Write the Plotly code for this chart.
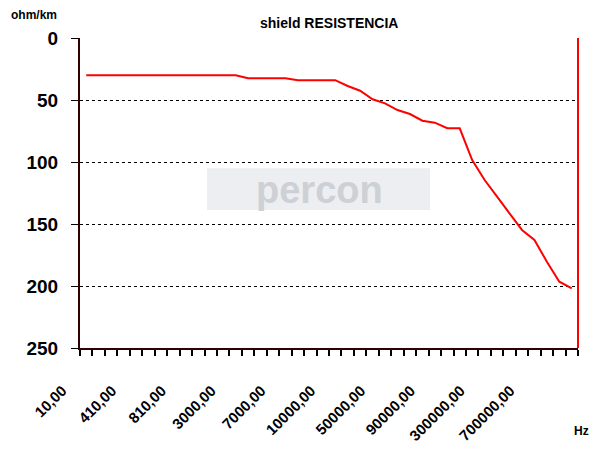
import plotly.graph_objects as go

# frequencies (Hz) on the category axis
freqs = [10, 110, 210, 310, 410, 510, 610, 710, 810, 910,
         1000, 2000, 3000, 4000, 5000, 6000, 7000, 8000, 9000, 9500,
         10000, 20000, 30000, 40000, 50000, 60000, 70000, 80000, 90000, 100000,
         150000, 200000, 300000, 400000, 500000, 600000, 700000, 800000, 900000, 1000000]

# shield resistance, ohm/km
resistance = [30, 30, 30, 30, 30, 30, 30, 30, 30, 30,
              30, 30, 30, 32.5, 32.5, 32.5, 32.5, 34, 34, 34,
              34, 38.7, 42.5, 49.4, 52.7, 58.1, 61.3, 66.7, 68.3, 72.8,
              72.8, 98.4, 114.5, 128, 141.5, 154.8, 162.9, 180.4, 196.5, 201.9]

y_ticks = [0, 50, 100, 150, 200, 250]

freq_labels = [f"{f},00" for f in freqs]
x_idx = list(range(len(freqs)))
label_idx = x_idx[::4]

fig = go.Figure(go.Scatter(
    x=x_idx, y=resistance, mode="lines",
    line=dict(color="#ff0000", width=2),
    hoverinfo="skip",
))

# the page body adds an 8px offset, so the figure is 8px smaller on each side
fig.update_layout(
    width=606, height=442,
    margin=dict(l=72, r=36, t=30, b=102),
    plot_bgcolor="#ffffff",
    paper_bgcolor="#ffffff",
    showlegend=False,
    font=dict(family="Liberation Sans, Arial, sans-serif", color="#000000"),
    xaxis=dict(
        automargin=False,
        range=[-0.5, len(freqs) - 0.5],
        tickmode="array",
        tickvals=label_idx,
        ticktext=[f"<b>{freq_labels[i]}</b>" for i in label_idx],
        tickangle=-45,
        ticks="",
        ticklabelshift=-24,
        ticklabelstandoff=26,
        tickfont=dict(size=15, color="#000000"),
        showgrid=False,
        zeroline=False,
        showline=True, linecolor="#300000", linewidth=2,
        minor=dict(
            tickvals=[i - 0.5 for i in range(len(freqs) + 1)],
            ticks="outside", ticklen=6, tickwidth=2, tickcolor="#000000",
            showgrid=False,
        ),
    ),
    yaxis=dict(
        automargin=False,
        range=[250, 0],
        tickmode="array",
        tickvals=y_ticks,
        ticktext=[f"<b>{v}</b>" for v in y_ticks],
        tickfont=dict(size=19, color="#000000"),
        ticks="outside", ticklen=7, tickwidth=1, tickcolor="#000000",
        ticklabelstandoff=9,
        showgrid=True, gridcolor="#000000", griddash="dot", gridwidth=1,
        zeroline=False,
        showline=True, linecolor="#300000", linewidth=2,
    ),
    annotations=[
        dict(text="<b>shield RESISTENCIA</b>", xref="paper", yref="paper",
             x=0.5, y=1, yshift=25, showarrow=False,
             font=dict(size=14, color="#000000")),
        dict(text="<b>ohm/km</b>", xref="paper", yref="paper",
             x=-0.142, y=1, yshift=32, xanchor="left", showarrow=False,
             font=dict(size=12, color="#000000")),
        dict(text="<b>Hz</b>", xref="paper", yref="paper",
             x=0.987, y=0, yshift=-92, xanchor="left", showarrow=False,
             font=dict(size=12, color="#000000")),
        dict(text="<b>percon</b>", xref="paper", yref="paper",
             x=0.48, y=0.51, showarrow=False,
             font=dict(size=38, color="#cdd0d5",
                       family="Liberation Sans, Arial, sans-serif")),
    ],
    shapes=[
        dict(type="rect", xref="paper", yref="paper",
             x0=0.255, x1=0.703, y0=0.445, y1=0.58,
             fillcolor="#eceef1", line=dict(width=0), layer="below"),
        dict(type="line", xref="paper", yref="paper",
             x0=1, x1=1, y0=0, y1=1,
             line=dict(color="#ff0000", width=2)),
    ],
)

fig.write_html("out.html")
